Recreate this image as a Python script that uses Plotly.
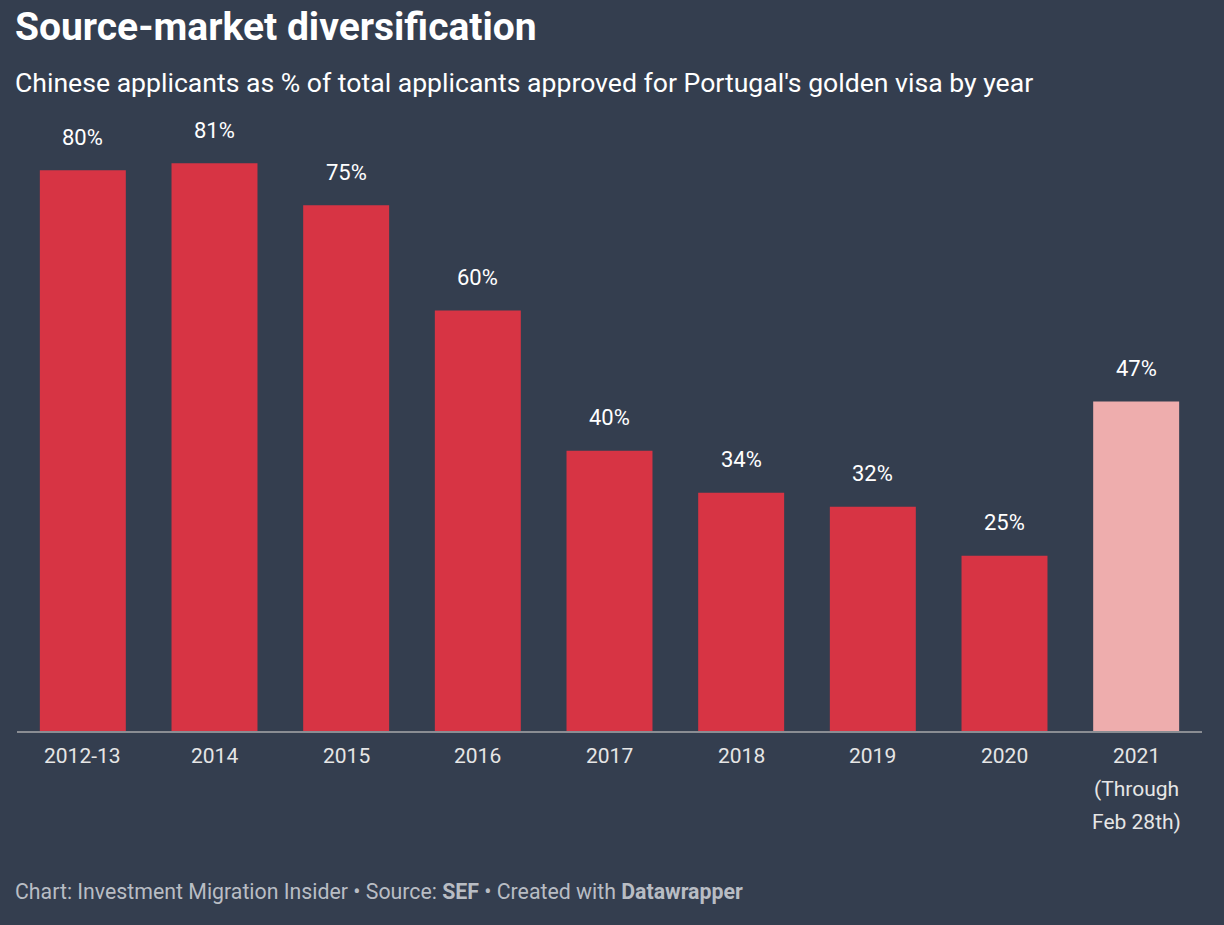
import plotly.graph_objects as go

categories = ["2012-13", "2014", "2015", "2016", "2017", "2018", "2019", "2020", "2021<br>(Through<br>Feb 28th)"]
values = [80, 81, 75, 60, 40, 34, 32, 25, 47]
value_labels = ["80%", "81%", "75%", "60%", "40%", "34%", "32%", "25%", "47%"]
partial_year = [False, False, False, False, False, False, False, False, True]

BG = "#343e4f"
RED = "#d73444"
PINK = "#eeadad"
FONT = "Roboto"

colors = [PINK if p else RED for p in partial_year]
x_keys = [c.split("<br>")[0] for c in categories]

fig = go.Figure()
fig.add_trace(go.Bar(
    x=x_keys, y=values, marker=dict(color=colors, line=dict(width=0)),
    hoverinfo="skip",
))

annotations = []
# category axis: annotations use the category index
for i, (v, lab) in enumerate(zip(values, value_labels)):
    annotations.append(dict(x=i, y=v, xref="x", yref="y", text=lab, showarrow=False,
                            yshift=33, font=dict(family=FONT, size=22, color="#ffffff")))
for i, c in enumerate(categories):
    for j, line in enumerate(c.split("<br>")):
        annotations.append(dict(x=i, y=0, xref="x", yref="y", text=line, showarrow=False,
                                yshift=-25 - 33 * j, font=dict(family=FONT, size=21, color="#e6e6e6")))

annotations.append(dict(x=0, y=1, xref="paper", yref="paper", xanchor="left", yanchor="middle",
                        text="<b>Source-market diversification</b>", showarrow=False,
                        yshift=110 - 27, xshift=-4,
                        font=dict(family=FONT, size=39, color="#ffffff")))
annotations.append(dict(x=0, y=1, xref="paper", yref="paper", xanchor="left", yanchor="middle",
                        text="Chinese applicants as % of total applicants approved for Portugal's golden visa by year",
                        showarrow=False, yshift=110 - 82, xshift=-4,
                        font=dict(family=FONT, size=26.6, color="#ffffff")))
annotations.append(dict(x=0, y=0, xref="paper", yref="paper", xanchor="left", yanchor="middle",
                        text="Chart: Investment Migration Insider • Source: <b>SEF</b> • Created with <b>Datawrapper</b>",
                        showarrow=False, yshift=-(891 - 731), xshift=-4,
                        font=dict(family=FONT, size=21.3, color="#b9bdc4")))

fig.update_layout(
    width=1224, height=925,
    margin=dict(l=17, r=22, t=110, b=194, pad=0),
    paper_bgcolor=BG, plot_bgcolor=BG,
    bargap=0.347,
    showlegend=False,
    xaxis=dict(type="category", range=[-0.5, len(categories) - 0.5], showticklabels=False,
               showgrid=False, zeroline=False, showline=True,
               linecolor="#8a8d93", linewidth=2, ticks="", fixedrange=True),
    yaxis=dict(range=[0, 88.6], showticklabels=False, showgrid=False, zeroline=False,
               showline=False, fixedrange=True),
    annotations=annotations,
)

fig.write_html("out.html", config={"displayModeBar": False},
               post_script="document.body.style.margin='0';document.body.style.background='" + BG + "';")
